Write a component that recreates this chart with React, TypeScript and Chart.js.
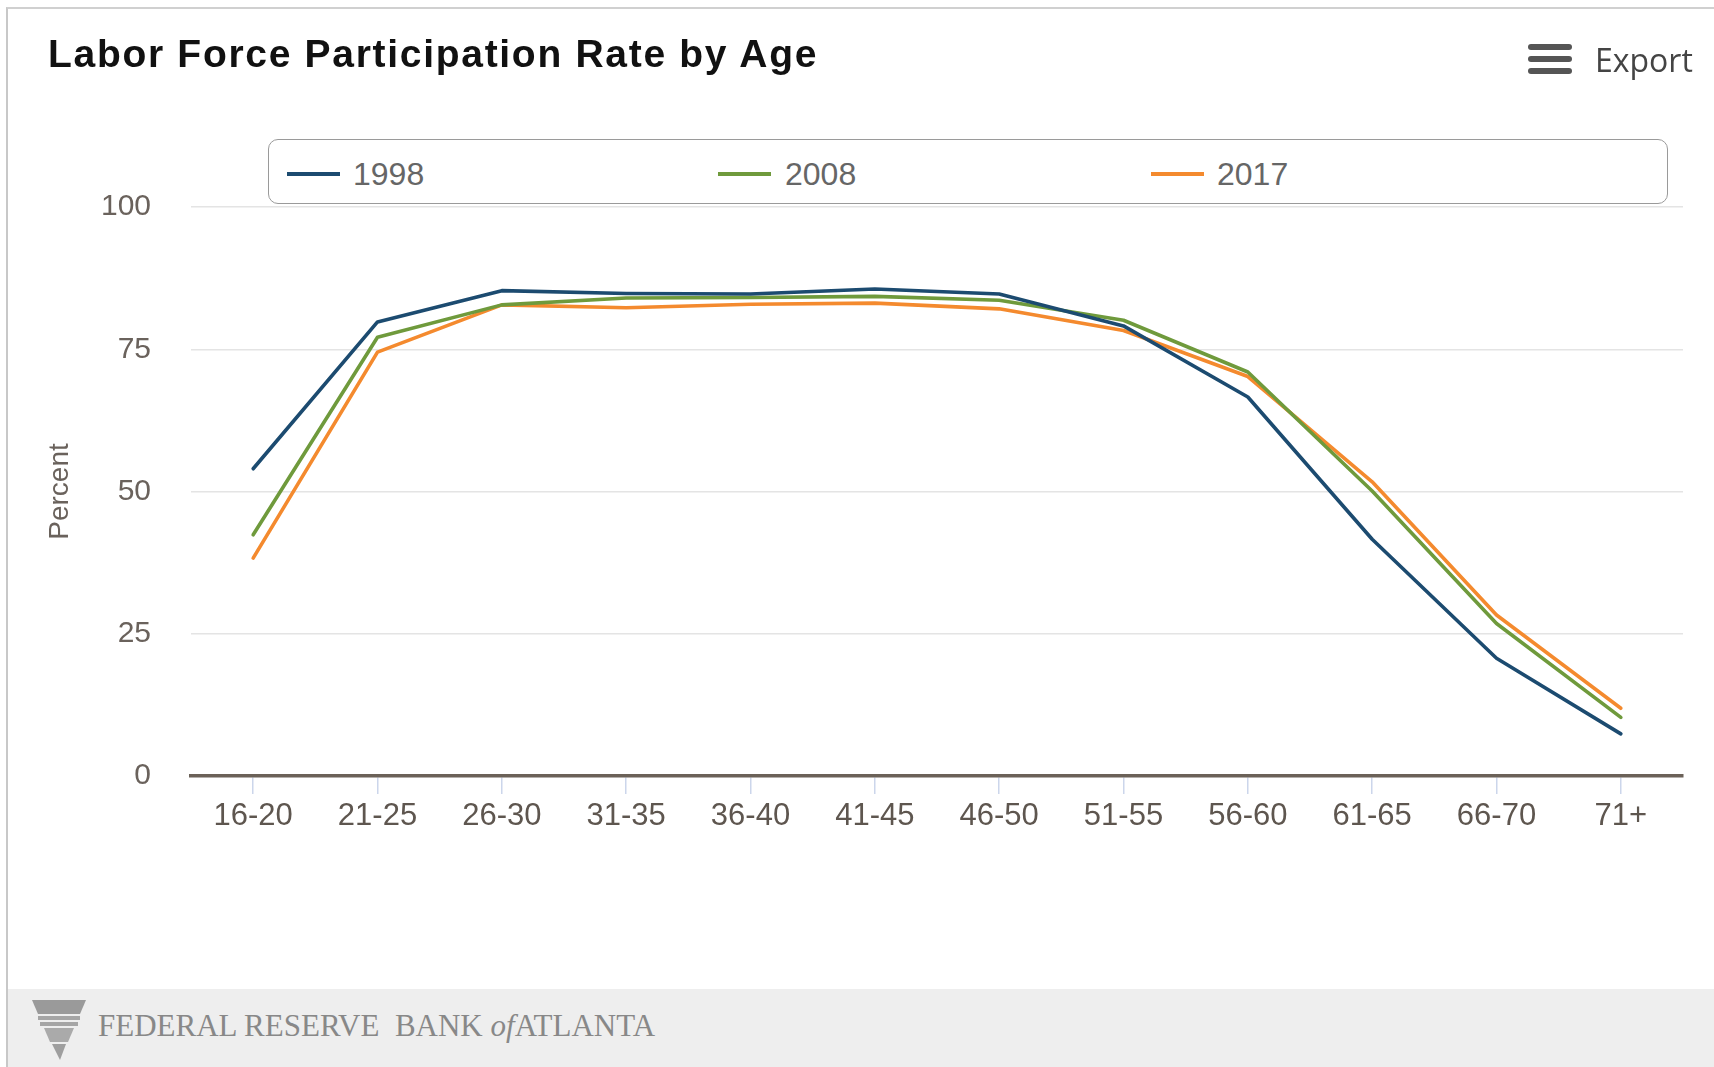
import React, { useEffect, useRef } from "react";
import { Chart, registerables } from "chart.js";

Chart.register(...registerables);

const categories = ["16-20", "21-25", "26-30", "31-35", "36-40", "41-45", "46-50", "51-55", "56-60", "61-65", "66-70", "71+"];
const values1998 = [54.0, 79.8, 85.3, 84.8, 84.7, 85.6, 84.7, 79.1, 66.6, 41.6, 20.7, 7.4];
const values2008 = [42.4, 77.1, 82.8, 84.0, 84.1, 84.3, 83.6, 80.1, 71.0, 50.1, 26.8, 10.3];
const values2017 = [38.3, 74.5, 82.8, 82.3, 82.9, 83.1, 82.1, 78.3, 70.2, 51.7, 28.3, 11.9];
const seriesNames = ["1998", "2008", "2017"];
const seriesColors = ["#1c4b70", "#6f9a3c", "#f48a2e"];
const yMin = 0;
const yMax = 100;
const yStep = 25;

const W = 1714;
const H = 1067;

export default function App() {
  const ref = useRef<HTMLCanvasElement | null>(null);

  useEffect(() => {
    if (!ref.current) return;
    const allValues = [values1998, values2008, values2017];
    const chart = new Chart(ref.current, {
      type: "line",
      data: {
        labels: categories,
        datasets: allValues.map((vals, i) => ({
          label: seriesNames[i],
          data: vals,
          borderColor: seriesColors[i],
          backgroundColor: seriesColors[i],
          borderWidth: 3.6,
          pointRadius: 0,
          tension: 0,
          fill: false,
          borderJoinStyle: "round" as const,
          borderCapStyle: "round" as const,
        })),
      },
      options: {
        responsive: false,
        animation: false,
        devicePixelRatio: 1,
        layout: { padding: { left: 0, right: 31, top: 207, bottom: 191 } },
        plugins: {
          legend: { display: false },
          tooltip: { enabled: false },
          title: { display: false },
        },
        scales: {
          x: {
            type: "category",
            offset: true,
            grid: {
              offset: false,
              drawOnChartArea: false,
              drawTicks: true,
              tickLength: 18,
              tickColor: "#ccd6eb",
              lineWidth: 1.5,
            },
            border: { display: true, color: "#6b6158", width: 3.5 },
            ticks: {
              color: "#5e564f",
              font: { family: "'Liberation Sans', Arial, sans-serif", size: 31 },
              padding: 4,
              maxRotation: 0,
              autoSkip: false,
            },
            afterFit: (scale: any) => {
              scale.height = 100;
            },
          },
          y: {
            min: yMin,
            max: yMax,
            grid: { color: "#e4e4e4", lineWidth: 1.5, drawTicks: false },
            border: { display: false },
            ticks: {
              stepSize: yStep,
              color: "#6a625c",
              padding: 40,
              font: { family: "'Liberation Sans', Arial, sans-serif", size: 30 },
            },
            title: {
              display: true,
              text: "Percent",
              color: "#6a625c",
              font: { family: "'Liberation Sans', Arial, sans-serif", size: 28 },
              padding: { top: 43, bottom: 0 },
            },
            afterFit: (scale: any) => {
              scale.width = 191;
            },
          },
        },
      },
    });
    return () => chart.destroy();
  }, []);

  const legendLineX = [287, 718, 1151];
  const legendTextX = [353, 785, 1217];

  return (
    <div style={{ position: "absolute", left: 0, top: 0, width: W, height: H, background: "#fff", overflow: "hidden" }}>
      <div style={{ position: "absolute", left: 6, top: 7, width: W - 6, height: H - 7, borderTop: "2px solid #d0d0d0", borderLeft: "2px solid #c8c8c8", boxSizing: "border-box" }} />
      <canvas ref={ref} width={W} height={H} style={{ position: "absolute", left: 0, top: 0, width: W, height: H }} />
      <div style={{ position: "absolute", left: 48, top: 31, fontFamily: "'Liberation Sans', Arial, sans-serif", fontWeight: "bold", fontSize: 39, letterSpacing: "1.7px", color: "#111", whiteSpace: "nowrap", lineHeight: "46px" }}>
        Labor Force Participation Rate by Age
      </div>
      <div style={{ position: "absolute", left: 1528, top: 44 }}>
        {[0, 12, 24].map((t) => (
          <div key={t} style={{ position: "absolute", left: 0, top: t, width: 44, height: 6, borderRadius: 3, background: "#555" }} />
        ))}
      </div>
      <div style={{ position: "absolute", left: 1595, top: 37, fontFamily: "'Open Sans', sans-serif", fontSize: 32, color: "#444", lineHeight: "46px", fontWeight: 500 }}>
        Export
      </div>
      <div style={{ position: "absolute", left: 268, top: 139, width: 1400, height: 65, border: "1.5px solid #9a9a9a", borderRadius: 10, boxSizing: "border-box", background: "#fff" }} />
      {seriesNames.map((name, i) => (
        <React.Fragment key={name}>
          <div style={{ position: "absolute", left: legendLineX[i], top: 172, width: 53, height: 4, background: seriesColors[i] }} />
          <div style={{ position: "absolute", left: legendTextX[i], top: 154, fontFamily: "'Liberation Sans', Arial, sans-serif", fontSize: 32, color: "#666", lineHeight: "40px" }}>
            {name}
          </div>
        </React.Fragment>
      ))}
      <div style={{ position: "absolute", left: 8, top: 989, width: W - 8, height: H - 989, background: "#eeeeee" }} />
      <svg style={{ position: "absolute", left: 30, top: 998 }} width={60} height={64} viewBox="0 0 60 64">
        <path d="M2 2 H56 L50 16 H8 Z" fill="#9a9a9a" />
        <rect x="8" y="18" width="42" height="4" fill="#a5a5a5" />
        <rect x="10" y="24" width="38" height="4" fill="#a5a5a5" />
        <path d="M14 30 H44 L38 44 H20 Z" fill="#aaaaaa" />
        <path d="M22 46 H36 L30 62 Z" fill="#9e9e9e" />
      </svg>
      <div style={{ position: "absolute", left: 98, top: 1006, fontFamily: "'Liberation Serif', 'Times New Roman', serif", fontSize: 31, color: "#888", whiteSpace: "nowrap", lineHeight: "40px" }}>
        FEDERAL RESERVE&nbsp; BANK <i>of</i>ATLANTA
      </div>
    </div>
  );
}
